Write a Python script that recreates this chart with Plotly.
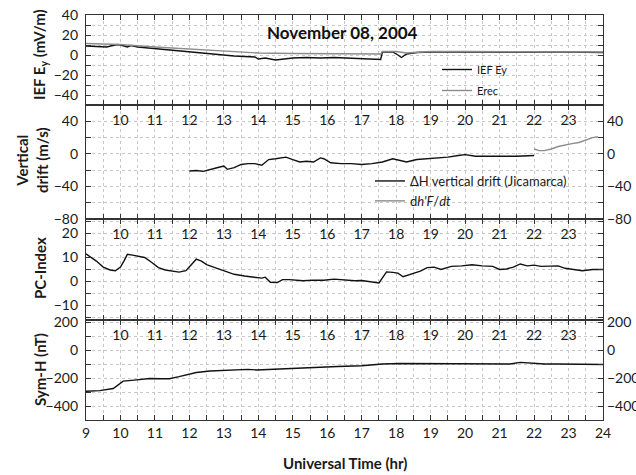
import plotly.graph_objects as go

# ---------------- data ----------------
ief_t = [9.0, 9.3, 9.6, 9.9, 10.0, 10.2, 10.3, 10.5, 10.8, 11.2, 11.6, 12.0, 12.5, 13.0, 13.3, 13.6, 13.9, 14.0,
         14.2, 14.5, 14.8, 15.0, 15.4, 15.8, 16.2, 16.6, 17.0, 17.3, 17.55, 17.6, 17.9, 18.05, 18.15, 18.3, 18.6,
         19.0, 19.5, 20.0, 21.0, 22.0, 23.0, 24.0]
ief_v = [9, 8.5, 8, 10.5, 10, 8, 9.5, 8, 7, 5.5, 4, 3, 1.5, 0, -1, -1.5, -2, -4,
         -3, -5, -4, -3, -2.5, -3, -2.5, -3, -3.5, -4.5, -4.5, 3, 3, 0, -2.5, 1, 2.5,
         3, 3, 3, 3, 3.5, 3, 2.5]

erec_t = [9, 10, 11, 12, 13, 14, 15, 16, 17, 17.55, 17.6, 18, 18.3, 19, 20, 22, 24]
erec_v = [11.5, 10.5, 8, 6, 3.5, 2, 1.5, 1.5, 1, 1, 3.5, 3.5, 2, 3.5, 3.5, 3.5, 3]

drift_t = [12.0, 12.2, 12.4, 12.6, 12.8, 13.0, 13.1, 13.3, 13.5, 13.7, 13.9, 14.1, 14.3, 14.5, 14.7, 14.8, 15.0,
           15.2, 15.4, 15.6, 15.8, 15.9, 16.1, 16.4, 16.7, 17.0, 17.3, 17.6, 17.9, 18.1, 18.3, 18.6, 18.9, 19.2,
           19.5, 19.8, 20.0, 20.3, 20.7, 21.0, 21.5, 22.0]
drift_v = [-21, -20.5, -21.5, -19, -17, -15, -19, -17, -13, -12, -12, -14, -7, -6, -5, -4, -7,
           -10, -9, -10, -5, -6, -11, -12, -12, -13, -12, -10, -6, -8, -10, -7, -6, -5,
           -4, -2, -1, -3, -3, -3, -3, -2]

dhf_t = [22.0, 22.15, 22.3, 22.5, 22.7, 22.9, 23.1, 23.3, 23.5, 23.7, 23.85]
dhf_v = [6, 4, 4, 6, 9, 11, 12.5, 14, 17, 20, 21]

pc_t = [9.0, 9.15, 9.3, 9.5, 9.7, 9.85, 10.0, 10.1, 10.2, 10.35, 10.5, 10.7, 10.9, 11.1, 11.3, 11.5, 11.7, 11.9,
        12.05, 12.2, 12.35, 12.5, 12.7, 12.9, 13.1, 13.3, 13.6, 13.9, 14.1, 14.2, 14.35, 14.55, 14.7, 14.9, 15.1,
        15.3, 15.6, 15.9, 16.2, 16.5, 16.8, 17.0, 17.2, 17.5, 17.6, 17.72, 17.9, 18.05, 18.2, 18.4, 18.7, 18.9,
        19.1, 19.3, 19.6, 19.9, 20.2, 20.5, 20.8, 21.0, 21.2, 21.4, 21.6, 21.8, 22.0, 22.2, 22.5, 22.7, 22.9,
        23.1, 23.4, 23.7, 24.0]
pc_v = [11.5, 10, 8.5, 6, 4.8, 4.5, 6, 8.5, 11.3, 11, 10.5, 10, 8, 5.8, 4.8, 4.3, 3.9, 4.5,
        7, 9.3, 8.5, 7, 6, 5, 4, 3, 2.3, 1.8, 1.4, 1.8, -0.3, -0.4, 0.8, 0.8, 0.5,
        0.3, 0.6, 0.5, 1, 0.5, 0.3, 0.4, 0, -0.6, 1.5, 4, 3.8, 3.5, 2, 3, 4.3, 5.8,
        6, 5, 6.3, 6.5, 7, 6.5, 6.3, 5, 5.2, 6, 7.3, 6.5, 6.8, 6.3, 6.3, 6.5, 5.5,
        5, 4.5, 5, 5]

symh_t = [9.0, 9.4, 9.79, 9.9, 10.08, 10.4, 10.85, 11.2, 11.42, 11.7, 12.0, 12.2, 12.6, 13.0, 13.3, 13.7, 13.95,
          14.3, 14.7, 15.2, 15.7, 16.3, 17.0, 17.6, 18.1, 18.6, 19.2, 20.0, 20.6, 21.0, 21.3, 21.6, 22.0, 22.3,
          22.7, 23.2, 23.8, 24.0]
symh_v = [-294, -290, -275, -255, -222, -215, -203, -205, -205, -190, -170, -160, -150, -145, -143, -138, -142,
          -138, -133, -126, -122, -118, -112, -100, -96, -97, -96, -100, -98, -100, -100, -88, -94, -100,
          -100, -100, -104, -103]

x_range = [9, 24]
inner_ticks = list(range(10, 24))
bottom_ticks = list(range(9, 25))
ief_ticks = [-40, -20, 0, 20, 40]
drift_ticks = [-80, -40, 0, 40]
pc_ticks = [-10, 0, 10, 20]
symh_ticks = [-400, -200, 0, 200]
ief_range = [-50, 40]
drift_range = [-80, 60]
pc_range = [-16, 26]
symh_range = [-500, 215]

# ---------------- figure ----------------
FONT = "Lato"
TXT = "#1a1a1a"
GRID = "#c8c8c8"
LINE_W = 1.4
fig = go.Figure()

fig.add_trace(go.Scatter(x=ief_t, y=ief_v, mode="lines", name="IEF Ey", line=dict(color="#111111", width=LINE_W),
                         xaxis="x", yaxis="y", legend="legend", legendgroup="a"))
fig.add_trace(go.Scatter(x=erec_t, y=erec_v, mode="lines", name="Erec", line=dict(color="#8c8c8c", width=LINE_W),
                         xaxis="x", yaxis="y", legend="legend", legendgroup="b"))
fig.add_trace(go.Scatter(x=drift_t, y=drift_v, mode="lines", name="ΔH vertical drift (Jicamarca)",
                         line=dict(color="#111111", width=LINE_W), xaxis="x2", yaxis="y2", legend="legend2"))
fig.add_trace(go.Scatter(x=dhf_t, y=dhf_v, mode="lines", name="d<i>h'F</i>/<i>dt</i>",
                         line=dict(color="#8c8c8c", width=LINE_W), xaxis="x2", yaxis="y5", legend="legend2"))
fig.add_trace(go.Scatter(x=pc_t, y=pc_v, mode="lines", showlegend=False,
                         line=dict(color="#111111", width=LINE_W), xaxis="x3", yaxis="y3"))
fig.add_trace(go.Scatter(x=symh_t, y=symh_v, mode="lines", showlegend=False,
                         line=dict(color="#111111", width=LINE_W), xaxis="x4", yaxis="y4"))
# empty traces that only register the label-only overlay axes
for xa, ya in [("x5", "y2"), ("x6", "y3"), ("x7", "y4"), ("x4", "y6")]:
    fig.add_trace(go.Scatter(x=[], y=[], xaxis=xa, yaxis=ya, showlegend=False, hoverinfo="skip"))

TOP, BOT = 15, 420
H = float(BOT - TOP)
def dom(top_px, bot_px):
    return [(BOT - bot_px) / H, (BOT - top_px) / H]

doms = [dom(15, 105), dom(105, 219), dom(219, 320), dom(320, 420)]

tickfont = dict(family=FONT, size=14, color=TXT)

def xax(anchor, show_labels):
    return dict(range=x_range, anchor=anchor, showline=True, linecolor="#333", linewidth=1.2, mirror="ticks",
                ticks="inside", ticklen=5, tickcolor="#333", showgrid=True, gridcolor=GRID, griddash="dot",
                gridwidth=1, zeroline=False, showticklabels=show_labels, tickfont=tickfont, automargin=False,
                tickmode="array", tickvals=bottom_ticks, matches="x" if anchor != "y" else None,
                minor=dict(tickmode="linear", tick0=9, dtick=0.5, ticks="inside", ticklen=5, tickcolor="#333",
                           showgrid=True, gridcolor=GRID, griddash="dot"))

def xlab(overlay, anchor):
    return dict(range=x_range, anchor=anchor, overlaying=overlay, side="top", automargin=False,
                tickmode="array", tickvals=inner_ticks, showgrid=False, showline=False, ticks="",
                zeroline=False, tickfont=tickfont, ticklabelstandoff=-24)

def yax(anchor, domain, rng, vals, minor_dt):
    return dict(domain=domain, range=rng, anchor=anchor, showline=True, linecolor="#333", linewidth=1.2,
                mirror="ticks", ticks="inside", ticklen=5, tickcolor="#333", showgrid=True, gridcolor=GRID,
                griddash="dot", zeroline=False, tickmode="array", tickvals=vals, tickfont=tickfont,
                ticklabelstandoff=4, automargin=False,
                minor=dict(tickmode="linear", tick0=vals[0], dtick=minor_dt, ticks="inside", ticklen=5,
                           tickcolor="#333", showgrid=True, gridcolor=GRID, griddash="dot"))

def yright(overlay, anchor, rng, vals):
    return dict(range=rng, anchor=anchor, overlaying=overlay, side="right", tickmode="array", automargin=False,
                tickvals=vals, showgrid=False, showline=False, ticks="", zeroline=False,
                tickfont=tickfont, ticklabelstandoff=3)

fig.update_layout(
    width=636, height=475, margin=dict(l=86, r=33, t=TOP, b=475 - BOT, autoexpand=False),
    paper_bgcolor="white", plot_bgcolor="white",
    font=dict(family=FONT, color=TXT),
    xaxis=xax("y", False),
    xaxis2=xax("y2", False),
    xaxis3=xax("y3", False),
    xaxis4=xax("y4", True),
    xaxis5=xlab("x2", "y2"),
    xaxis6=xlab("x3", "y3"),
    xaxis7=xlab("x4", "y4"),
    yaxis=yax("x", doms[0], ief_range, ief_ticks, 10),
    yaxis2=yax("x2", doms[1], drift_range, drift_ticks, 20),
    yaxis3=yax("x3", doms[2], pc_range, pc_ticks, 5),
    yaxis4=yax("x4", doms[3], symh_range, symh_ticks, 100),
    yaxis5=yright("y2", "x2", drift_range, drift_ticks),
    yaxis6=yright("y4", "x4", symh_range, symh_ticks),
    legend=dict(x=(437 - 86) / 517, y=(BOT - 55) / H, xanchor="left", yanchor="top",
                bgcolor="rgba(0,0,0,0)", font=dict(family=FONT, size=11, color=TXT), tracegroupgap=2),
    legend2=dict(x=(370 - 86) / 517, y=(BOT - 166) / H, xanchor="left", yanchor="top",
                 bgcolor="rgba(0,0,0,0)", font=dict(family=FONT, size=13, color=TXT)),
    showlegend=True,
)

def ylab(text, xpx, ypx):
    fig.add_annotation(text=text, x=(xpx - 86) / 517, y=(BOT - ypx) / H, xref="paper", yref="paper",
                       textangle=-90, showarrow=False, font=dict(family=FONT, size=15, color=TXT),
                       xanchor="center", yanchor="middle")

ylab("<b>IEF E<sub>y</sub> (mV/m)</b>", 40, 55)
ylab("<b>Vertical<br>drift (m/s)</b>", 32, 160)
ylab("<b>PC-Index</b>", 40, 268)
ylab("<b>Sym-H (nT)</b>", 40, 370)

fig.add_annotation(text="<b>November 08, 2004</b>", x=(342 - 86) / 517, y=(BOT - 33) / H, xref="paper",
                   yref="paper", showarrow=False, font=dict(family=FONT, size=17, color="#111"),
                   xanchor="center", yanchor="middle")
fig.add_annotation(text="<b>Universal Time (hr)</b>", x=(345 - 86) / 517, y=(BOT - 463) / H, xref="paper",
                   yref="paper", showarrow=False, font=dict(family=FONT, size=15, color=TXT),
                   xanchor="center", yanchor="middle")

fig.write_html("out.html")
